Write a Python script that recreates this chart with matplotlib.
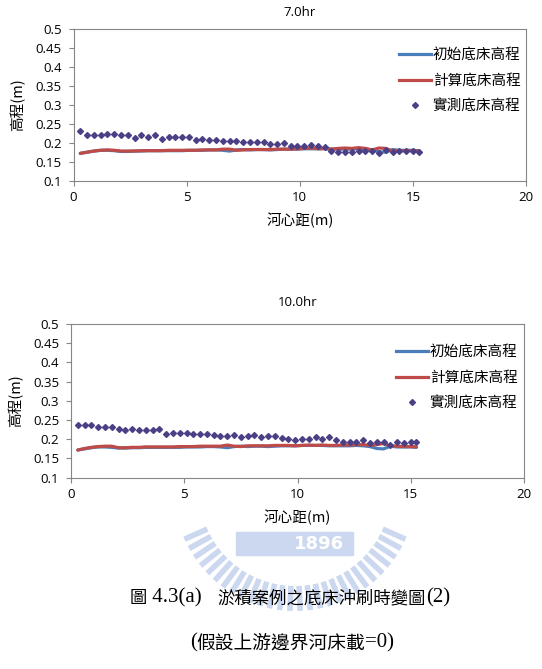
import numpy as np
import matplotlib
matplotlib.use('Agg')
import matplotlib.pyplot as plt
from matplotlib.lines import Line2D

plt.rcParams['font.family'] = ['Open Sans', 'Noto Sans CJK TC', 'DejaVu Sans']

# ---- data ----
dist = [0.3, 0.6, 0.9, 1.2, 1.5, 1.8, 2.1, 2.4, 2.7, 3.0,
        3.3, 3.6, 3.9, 4.2, 4.5, 4.8, 5.1, 5.4, 5.7, 6.0,
        6.3, 6.6, 6.9, 7.2, 7.5, 7.8, 8.1, 8.4, 8.7, 9.0,
        9.3, 9.6, 9.9, 10.2, 10.5, 10.8, 11.1, 11.4, 11.7, 12.0,
        12.3, 12.6, 12.9, 13.2, 13.5, 13.8, 14.1, 14.4, 14.7, 15.0,
        15.25]

initial_bed = [0.172, 0.175, 0.178, 0.180, 0.180, 0.179, 0.177, 0.177, 0.178, 0.178,
               0.179, 0.179, 0.179, 0.179, 0.179, 0.179, 0.180, 0.180, 0.180, 0.181,
               0.181, 0.180, 0.178, 0.181, 0.182, 0.181, 0.182, 0.182, 0.181, 0.182,
               0.183, 0.183, 0.183, 0.184, 0.184, 0.184, 0.184, 0.183, 0.183, 0.183,
               0.183, 0.184, 0.183, 0.181, 0.176, 0.175, 0.182, 0.180, 0.180, 0.180,
               0.179]

calc_7hr = [0.172, 0.175, 0.178, 0.180, 0.181, 0.180, 0.178, 0.178, 0.178, 0.179,
            0.179, 0.179, 0.179, 0.180, 0.180, 0.180, 0.180, 0.180, 0.181, 0.181,
            0.181, 0.183, 0.183, 0.180, 0.181, 0.182, 0.182, 0.182, 0.182, 0.183,
            0.183, 0.183, 0.184, 0.185, 0.186, 0.184, 0.185, 0.183, 0.185, 0.186,
            0.185, 0.187, 0.185, 0.181, 0.186, 0.185, 0.178, 0.179, 0.179, 0.179,
            0.178]

meas_7hr = [0.230, 0.219, 0.220, 0.220, 0.224, 0.224, 0.219, 0.219, 0.212, 0.219,
            0.216, 0.220, 0.210, 0.214, 0.214, 0.216, 0.214, 0.208, 0.210, 0.207,
            0.206, 0.205, 0.205, 0.205, 0.203, 0.201, 0.201, 0.203, 0.197, 0.197,
            0.199, 0.192, 0.192, 0.192, 0.194, 0.192, 0.188, 0.177, 0.176, 0.176,
            0.176, 0.177, 0.177, 0.177, 0.174, 0.180, 0.176, 0.177, 0.179, 0.177,
            0.176]

calc_10hr = [0.172, 0.176, 0.179, 0.181, 0.182, 0.182, 0.178, 0.178, 0.179, 0.179,
             0.180, 0.180, 0.180, 0.180, 0.180, 0.181, 0.181, 0.181, 0.182, 0.182,
             0.182, 0.182, 0.185, 0.182, 0.181, 0.183, 0.183, 0.183, 0.183, 0.184,
             0.184, 0.184, 0.183, 0.184, 0.185, 0.184, 0.185, 0.184, 0.184, 0.185,
             0.185, 0.186, 0.186, 0.184, 0.186, 0.189, 0.183, 0.182, 0.181, 0.181,
             0.180]

meas_10hr = [0.238, 0.238, 0.236, 0.233, 0.233, 0.233, 0.226, 0.223, 0.226, 0.223,
             0.223, 0.225, 0.226, 0.215, 0.217, 0.217, 0.217, 0.214, 0.214, 0.213,
             0.212, 0.209, 0.209, 0.212, 0.207, 0.209, 0.210, 0.207, 0.208, 0.209,
             0.204, 0.200, 0.197, 0.202, 0.201, 0.206, 0.201, 0.206, 0.197, 0.194,
             0.194, 0.194, 0.197, 0.191, 0.194, 0.194, 0.186, 0.192, 0.190, 0.194,
             0.192]

panels = [('7.0hr', calc_7hr, meas_7hr), ('10.0hr', calc_10hr, meas_10hr)]
legend_labels = ['初始底床高程', '計算底床高程', '實測底床高程']

BLUE = '#4A7EBB'
RED = '#BE4B48'
MARK = '#4B3F86'
SPINE = '#868686'
W, H = 542, 669
CJK = ['Noto Sans CJK TC', 'Open Sans']
SERIF = ['Liberation Serif', 'Noto Sans CJK TC']

fig = plt.figure(figsize=(W / 100, H / 100), dpi=100)

# faint watermark (school logo) behind everything
wm = fig.add_axes([0, 0, 1, 1], zorder=-5)
wm.set_xlim(0, W)
wm.set_ylim(H, 0)
wm.axis('off')
cx, cy = 295, 490
for ang in np.linspace(np.radians(24), np.radians(156), 28):
    r0, r1 = 96, 121
    wm.plot([cx + r0 * np.cos(ang), cx + r1 * np.cos(ang)],
            [cy + r0 * np.sin(ang), cy + r1 * np.sin(ang)],
            color='#cbd8ef', lw=4, solid_capstyle='butt')
wm.add_patch(plt.Rectangle((236, 532), 117, 23, color='#cbd8ef'))
wm.text(319, 544, '1896', color='white', fontsize=13, fontweight='bold',
        ha='center', va='center', family='DejaVu Sans')

# pixel boxes of the two plot areas: left, right, top, bottom
boxes = [(73.5, 526.0, 28.7, 180.7), (71.0, 524.0, 324.0, 477.7)]
title_y = [13, 303]
legend_xy = [(399, 48), (396, 345)]

for box, ty, lxy, (title, calc, meas) in zip(boxes, title_y, legend_xy, panels):
    l, r, t, b = box
    ax = fig.add_axes([l / W, 1 - b / H, (r - l) / W, (b - t) / H])
    ax.set_facecolor('white')
    ax.plot(dist, initial_bed, color=BLUE, lw=2.3, solid_capstyle='round')
    ax.plot(dist, calc, color=RED, lw=2.3, solid_capstyle='round')
    ax.plot(dist, meas, linestyle='none', marker='D', ms=3.0, color=MARK)

    ax.set_xlim(0, 20)
    ax.set_ylim(0.1, 0.5)
    ax.set_xticks([0, 5, 10, 15, 20])
    ax.set_yticks([0.1, 0.15, 0.2, 0.25, 0.3, 0.35, 0.4, 0.45, 0.5])
    ax.set_yticklabels(['0.1', '0.15', '0.2', '0.25', '0.3', '0.35', '0.4', '0.45', '0.5'])
    for s in ax.spines.values():
        s.set_color(SPINE)
        s.set_linewidth(0.8)
    ax.tick_params(axis='both', direction='out', length=3.5, color=SPINE,
                   labelsize=9.5, labelcolor='black')
    ax.tick_params(axis='y', pad=5)
    ax.tick_params(axis='x', pad=4)

    fig.text((l + r) / 2 / W, 1 - ty / H, title, ha='center', va='center', fontsize=9.5)
    ax.set_xlabel('河心距(m)', fontsize=10.5, labelpad=6, family=CJK)
    ax.set_ylabel('高程(m)', fontsize=10.5, labelpad=7, family=CJK)

    handles = [Line2D([], [], color=BLUE, lw=2.3),
               Line2D([], [], color=RED, lw=2.3),
               Line2D([], [], color=MARK, marker='D', ms=3.0, linestyle='none')]
    fig.legend(handles, legend_labels, loc='upper left',
               bbox_to_anchor=(lxy[0] / W, 1 - lxy[1] / H),
               frameon=False, handlelength=2.2, handletextpad=0.1,
               labelspacing=0.8, borderpad=0, borderaxespad=0,
               prop={'family': ['Noto Sans CJK TC'], 'size': 10.5})


def caption_line(y_px, pieces, x_center_px):
    """Place mixed-size text pieces side by side, centred as one line."""
    renderer = fig.canvas.get_renderer()
    texts = []
    for s, fam, size in pieces:
        texts.append(fig.text(0, 1 - y_px / H, s, ha='left', va='center',
                              family=fam, fontsize=size))
    widths = [tx.get_window_extent(renderer).width for tx in texts]
    x = x_center_px - sum(widths) / 2
    for tx, w in zip(texts, widths):
        tx.set_x(x / W)
        x += w


caption_line(598, [('圖', CJK, 12.5), (' 4.3(a)   ', SERIF, 15),
                   ('淤積案例之底床沖刷時變圖', CJK, 12.5), ('(2)', SERIF, 15)], 290)
caption_line(643, [('(', SERIF, 15), ('假設上游邊界河床載', CJK, 13.5),
                   ('=0)', SERIF, 15)], 292)

fig.savefig('out.png', dpi=100)
